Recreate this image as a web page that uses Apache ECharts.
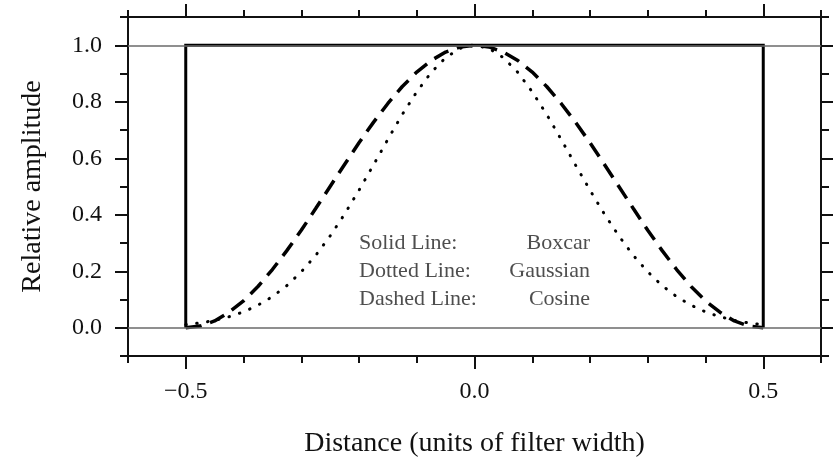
<!DOCTYPE html>
<html>
<head>
<meta charset="utf-8">
<script src="https://cdn.jsdelivr.net/npm/echarts@6/dist/echarts.min.js"></script>
<style>
html,body{margin:0;padding:0;background:#fff;}
#chart{width:833px;height:463px;}
</style>
</head>
<body>
<div id="chart"></div>
<script>
// ---- data ----
var xValues = [-0.5,-0.475,-0.45,-0.425,-0.4,-0.375,-0.35,-0.325,-0.3,-0.275,-0.25,-0.225,-0.2,-0.175,-0.15,-0.125,-0.1,-0.075,-0.05,-0.025,0,
               0.025,0.05,0.075,0.1,0.125,0.15,0.175,0.2,0.225,0.25,0.275,0.3,0.325,0.35,0.375,0.4,0.425,0.45,0.475,0.5];
var cosineValues = [0,0.006,0.024,0.055,0.095,0.146,0.206,0.273,0.345,0.422,0.5,0.578,0.655,0.727,0.794,0.854,0.905,0.946,0.976,0.994,1,
                    0.994,0.976,0.946,0.905,0.854,0.794,0.727,0.655,0.578,0.5,0.422,0.345,0.273,0.206,0.146,0.095,0.055,0.024,0.006,0];
var gaussianValues = [0.011,0.017,0.026,0.039,0.056,0.080,0.110,0.149,0.198,0.256,0.325,0.402,0.487,0.576,0.667,0.755,0.835,0.904,0.956,0.989,1,
                      0.989,0.956,0.904,0.835,0.755,0.667,0.576,0.487,0.402,0.325,0.256,0.198,0.149,0.110,0.080,0.056,0.039,0.026,0.017,0.011];
var boxcarX = [-0.5,-0.5,0.5,0.5];
var boxcarY = [0,1,1,0];
var refLines = [0,1];

var xMajorTicks = [-0.5,0,0.5];
var xTickLabels = ['\u22120.5','0.0','0.5'];
var xMinorTicks = [-0.6,-0.4,-0.3,-0.2,-0.1,0.1,0.2,0.3,0.4,0.6];
var yMajorTicks = [0,0.2,0.4,0.6,0.8,1.0];
var yTickLabels = ['0.0','0.2','0.4','0.6','0.8','1.0'];
var yMinorTicks = [-0.1,0.1,0.3,0.5,0.7,0.9,1.1];

var annotY = [0.3,0.2,0.1];
var annotLeftX = -0.2, annotRightX = 0.2;
var annotLeft = ['Solid Line:','Dotted Line:','Dashed Line:'];
var annotRight = ['Boxcar','Gaussian','Cosine'];

var xTitle = 'Distance (units of filter width)';
var yTitle = 'Relative amplitude';

// ---- build ----
function zip(a,b){ return a.map(function(v,i){ return [v,b[i]]; }); }
var FONT = 'Liberation Serif';
var INK = '#111';
var X_MIN=-0.6, X_MAX=0.6, Y_MIN=-0.1, Y_MAX=1.1;

function xAxisDef(pos, ticks, len, showLine, labels, name){
  return {
    type:'value', position:pos, min:X_MIN, max:X_MAX,
    axisLine:{show:showLine, onZero:false, lineStyle:{color:INK,width:2}},
    axisTick:{show:true, customValues:ticks, length:len, inside:false, lineStyle:{color:INK,width:2}},
    axisLabel:labels ? {show:true, customValues:ticks, margin:24, color:INK, fontFamily:FONT, fontSize:24,
        formatter:function(v){ var i = xMajorTicks.findIndex(function(t){return Math.abs(t-v)<1e-9;}); return i>=0 ? xTickLabels[i] : ''; }} : {show:false},
    splitLine:{show:false},
    name: name || '', nameLocation:'middle', nameGap:74,
    nameTextStyle:{color:INK, fontFamily:FONT, fontSize:28}
  };
}
function yAxisDef(pos, ticks, len, showLine, labels, name){
  return {
    type:'value', position:pos, min:Y_MIN, max:Y_MAX,
    axisLine:{show:showLine, onZero:false, lineStyle:{color:INK,width:2}},
    axisTick:{show:true, customValues:ticks, length:len, inside:false, lineStyle:{color:INK,width:2}},
    axisLabel:labels ? {show:true, customValues:ticks, margin:26, color:INK, fontFamily:FONT, fontSize:24,
        formatter:function(v){ var i = yMajorTicks.findIndex(function(t){return Math.abs(t-v)<1e-9;}); return i>=0 ? yTickLabels[i] : ''; }} : {show:false},
    splitLine:{show:false},
    name: name || '', nameLocation:'middle', nameGap:81, nameRotate:90,
    nameTextStyle:{color:INK, fontFamily:FONT, fontSize:28}
  };
}

var option = {
  animation:false,
  backgroundColor:'#fff',
  grid:{left:128, right:12, top:17, bottom:100, containLabel:false},
  xAxis:[
    xAxisDef('bottom', xMajorTicks, 13, true, true, xTitle),
    xAxisDef('bottom', xMinorTicks, 7, false, false),
    xAxisDef('top', xMajorTicks, 13, true, false),
    xAxisDef('top', xMinorTicks, 7, false, false)
  ],
  yAxis:[
    yAxisDef('left', yMajorTicks, 13, true, true, yTitle),
    yAxisDef('left', yMinorTicks, 8, false, false),
    yAxisDef('right', yMajorTicks, 13, true, false),
    yAxisDef('right', yMinorTicks, 8, false, false)
  ],
  series:[
    {
      type:'line', data:[], xAxisIndex:0, yAxisIndex:0, silent:true,
      markLine:{silent:true, symbol:'none', label:{show:false},
        lineStyle:{color:'#6a6a6a', width:1.5, type:'solid'},
        data: refLines.map(function(v){ return {yAxis:v}; })}
    },
    {
      name:'Boxcar', type:'line', data:zip(boxcarX, boxcarY), showSymbol:false, silent:true,
      lineStyle:{color:'#000', width:3, type:'solid', join:'miter'}
    },
    {
      name:'Gaussian', type:'line', data:zip(xValues, gaussianValues), showSymbol:false, silent:true,
      lineStyle:{color:'#000', width:3, type:[0.5,10.5], cap:'round'}
    },
    {
      name:'Cosine', type:'line', data:zip(xValues, cosineValues), showSymbol:false, silent:true,
      lineStyle:{color:'#000', width:3.5, type:[16,9], cap:'butt'}
    },
    {
      type:'scatter', symbolSize:0, silent:true,
      data: annotY.map(function(y){ return [annotLeftX, y]; }),
      label:{show:true, position:'right', distance:0, color:'#222', fontFamily:FONT, fontSize:22,
        formatter:function(p){ return annotLeft[p.dataIndex]; }}
    },
    {
      type:'scatter', symbolSize:0, silent:true,
      data: annotY.map(function(y){ return [annotRightX, y]; }),
      label:{show:true, position:'left', distance:0, color:'#222', fontFamily:FONT, fontSize:22,
        formatter:function(p){ return annotRight[p.dataIndex]; }}
    }
  ]
};
var chart = echarts.init(document.getElementById('chart'), null, {renderer:'canvas'});
chart.setOption(option);
</script>
</body>
</html>
